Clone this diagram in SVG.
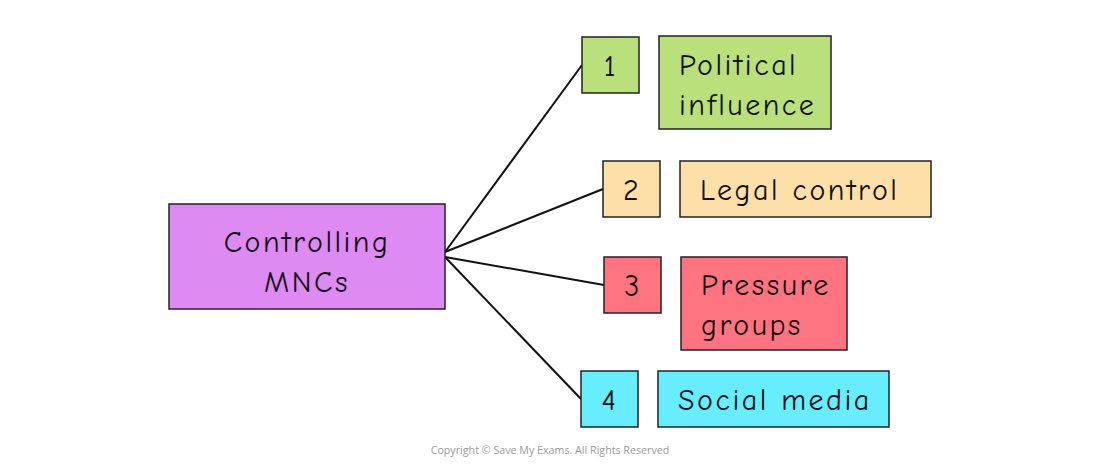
<svg xmlns="http://www.w3.org/2000/svg" width="1100" height="464" viewBox="0 0 1100 464">
<style>
rect{stroke:#222;stroke-width:1.5}
text{font-family:"Comic Neue","DejaVu Sans","Liberation Sans",sans-serif;font-size:30px;fill:#111;letter-spacing:2.5px}
.c{text-anchor:middle}
.cp{font-family:"Open Sans","Liberation Sans",sans-serif;font-size:10.7px;fill:#999;letter-spacing:0}
</style>
<rect width="1100" height="464" fill="#fff" style="stroke:none"/>
<g id="connectors" stroke="#111" stroke-width="2" fill="none">
<line x1="445" y1="252" x2="582" y2="65"/>
<line x1="445" y1="252" x2="603" y2="189"/>
<line x1="445" y1="257" x2="604" y2="285"/>
<line x1="445" y1="257" x2="581" y2="399"/>
</g>
<g id="root"><rect x="169" y="204" width="276" height="105" fill="#dd8bf3"/>
<text class="c" x="307" y="252">Controlling</text><text class="c" x="307" y="292">MNCs</text></g>
<g id="n1"><rect x="582" y="37" width="57" height="56" fill="#b9e07a"/><text class="c" x="611" y="76">1</text></g>
<g id="l1"><rect x="659" y="36" width="172" height="93" fill="#b9e07a"/><text x="679" y="75">Political</text><text x="679" y="115">influence</text></g>
<g id="n2"><rect x="603" y="161" width="57" height="56" fill="#fde0a8"/><text class="c" x="632" y="200">2</text></g>
<g id="l2"><rect x="680" y="161" width="251" height="56" fill="#fde0a8"/><text x="700" y="200">Legal control</text></g>
<g id="n3"><rect x="604" y="257" width="57" height="56" fill="#ff7480"/><text class="c" x="633" y="296">3</text></g>
<g id="l3"><rect x="681" y="257" width="166" height="93" fill="#ff7480"/><text x="701" y="295">Pressure</text><text x="701" y="335">groups</text></g>
<g id="n4"><rect x="581" y="371" width="57" height="56" fill="#66eeff"/><text class="c" x="610" y="410">4</text></g>
<g id="l4"><rect x="658" y="371" width="231" height="56" fill="#66eeff"/><text x="678" y="410">Social media</text></g>
<text class="cp c" x="550" y="454">Copyright © Save My Exams. All Rights Reserved</text>
</svg>
